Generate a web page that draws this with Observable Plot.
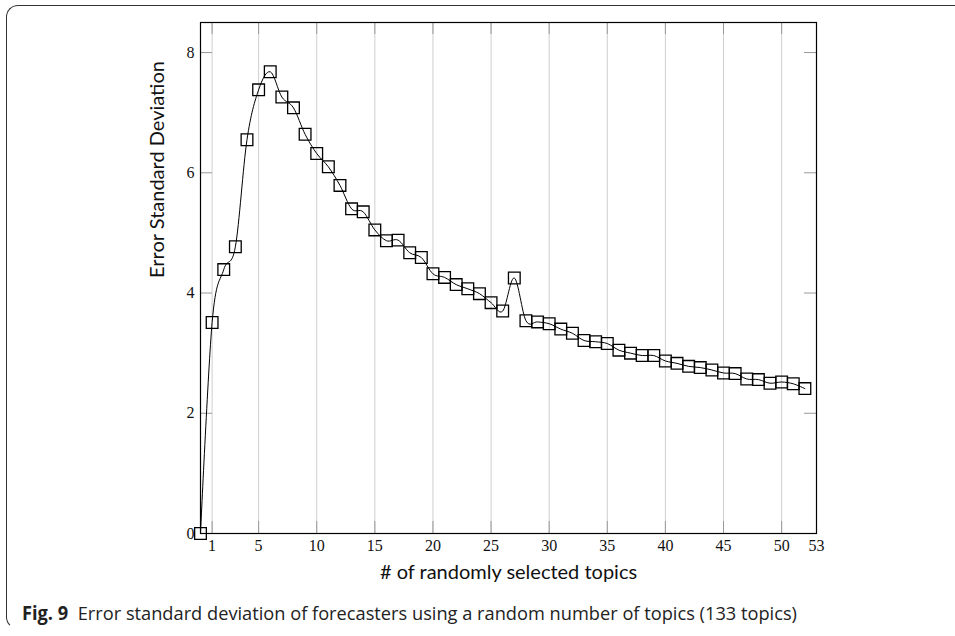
<!DOCTYPE html>
<html>
<head>
<meta charset="utf-8">
<script src="https://cdn.jsdelivr.net/npm/d3@7"></script>
<script src="https://cdn.jsdelivr.net/npm/@observablehq/plot@0.6"></script>
<style>
  html, body { margin: 0; padding: 0; background: #fff; }
  #page { position: relative; width: 955px; height: 636px; overflow: hidden; background: #fff; }
  #box { position: absolute; left: 6px; top: 5px; width: 960px; height: 624px; z-index: 2;
         border-top: 1.5px solid #333; border-left: 1.5px solid #333;
         border-bottom: 1.5px solid transparent;
         border-top-left-radius: 12px; border-bottom-left-radius: 12px; box-sizing: border-box;
         pointer-events: none; }
  #chart { position: absolute; left: 0; top: 0; z-index: 1; }
  #caption { position: absolute; left: 22px; top: 600px; white-space: nowrap; z-index: 1;
             font-family: "Open Sans", "Noto Sans", sans-serif; font-size: 19px; color: #222;
             transform-origin: 0 0; }
  #caption b { font-weight: 700; }
</style>
</head>
<body>
<div id="page">
  <div id="chart"></div>
  <div id="box"></div>
  <div id="caption"><b>Fig. 9</b>&nbsp;&nbsp;Error standard deviation of forecasters using a random number of topics (133 topics)</div>
</div>
<script>
const topics = [0,1,2,3,4,5,6,7,8,9,10,11,12,13,14,15,16,17,18,19,20,21,22,23,24,25,26,27,28,29,30,31,32,33,34,35,36,37,38,39,40,41,42,43,44,45,46,47,48,49,50,51,52];
const errorStd = [0,3.51,4.39,4.77,6.55,7.38,7.68,7.26,7.08,6.64,6.32,6.10,5.79,5.40,5.35,5.05,4.87,4.88,4.67,4.59,4.32,4.26,4.14,4.07,3.99,3.84,3.70,4.25,3.54,3.52,3.49,3.40,3.33,3.21,3.19,3.16,3.05,3.00,2.96,2.96,2.87,2.83,2.78,2.76,2.72,2.67,2.66,2.57,2.56,2.50,2.52,2.49,2.41];
const xTicks = [1,5,10,15,20,25,30,35,40,45,50,53];
const yTicks = [0,2,4,6,8];
const xLabel = "# of randomly selected topics";
const yLabel = "Error Standard Deviation";

const data = topics.map((t, i) => ({x: t, y: errorStd[i]}));
const xMax = 53, yMax = 8.5;
const tickLenX = 12 / 11.62; // ~12px in x data units
const tickLenY = 12 / 60.15; // ~12px in y data units

const chart = Plot.plot({
  width: 955,
  height: 600,
  marginLeft: 200,
  marginRight: 139,
  marginTop: 22,
  marginBottom: 67,
  x: {domain: [0, xMax], ticks: xTicks, tickSize: 0, tickPadding: 6, label: null},
  y: {domain: [0, yMax], ticks: yTicks, tickSize: 0, tickPadding: 6, label: null},
  style: {fontFamily: "'Liberation Serif', 'DejaVu Serif', serif", fontSize: "16px", color: "#111", background: "transparent"},
  marks: [
    Plot.ruleX(xTicks, {stroke: "#cfcfcf", strokeWidth: 1}),
    Plot.ruleX(xTicks, {y1: 0, y2: tickLenY, stroke: "#999", strokeWidth: 1}),
    Plot.ruleX(xTicks, {y1: yMax - tickLenY, y2: yMax, stroke: "#999", strokeWidth: 1}),
    Plot.ruleY(yTicks, {x1: 0, x2: tickLenX, stroke: "#999", strokeWidth: 1}),
    Plot.ruleY(yTicks, {x1: xMax - tickLenX, x2: xMax, stroke: "#999", strokeWidth: 1}),
    Plot.line(data, {x: "x", y: "y", curve: "cardinal", tension: 0, stroke: "black", strokeWidth: 1}),
    Plot.dot(data, {x: "x", y: "y", symbol: "square", r: 6.6, fill: "none", stroke: "black", strokeWidth: 1.3}),
    Plot.frame({stroke: "black", strokeWidth: 1.2}),
    Plot.text([xLabel], {frameAnchor: "bottom", dy: 45, fontFamily: "Lato, 'Open Sans', sans-serif", fontSize: 20, fill: "#111"}),
    Plot.text([yLabel], {frameAnchor: "left", dx: -43, rotate: -90, fontFamily: "Lato, 'Open Sans', sans-serif", fontSize: 20, fill: "#111"})
  ]
});
document.getElementById("chart").appendChild(chart);

// fit caption to its width in the reference
const cap = document.getElementById("caption");
const w = cap.getBoundingClientRect().width;
const target = 775;
cap.style.transform = `scaleX(${target / w})`;
</script>
</body>
</html>
